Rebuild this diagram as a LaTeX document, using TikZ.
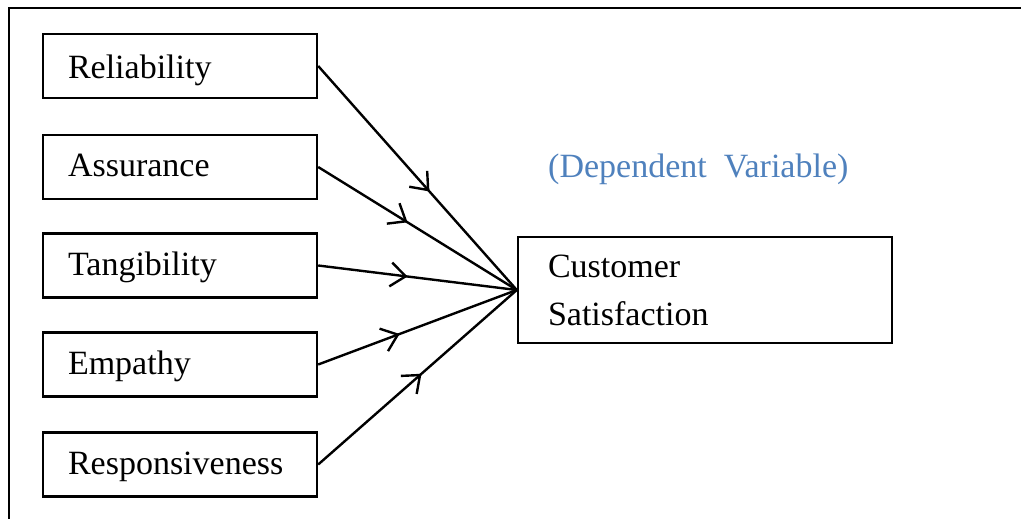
\documentclass[tikz,border=0pt]{standalone}
\usepackage{fontspec}
\setmainfont{Liberation Serif}
\usetikzlibrary{arrows.meta,decorations.markings}
\definecolor{depblue}{HTML}{4F81BD}
\tikzset{
  factor/.style={draw, line width=2.4pt, minimum width=274pt, minimum height=64pt,
    inner xsep=25pt, text width=224pt, align=left,
    text height=19pt, text depth=0pt,
    font=\fontsize{34}{48}\selectfont},
  outcome/.style={draw, line width=2.4pt, minimum width=374pt, minimum height=106pt,
    inner xsep=30pt, text width=314pt, align=left,
    font=\fontsize{34}{48}\selectfont},
  midbarb/.tip={Straight Barb[length=15pt,width=24pt,line width=2.4pt]},
  link/.style={line width=2.4pt, postaction={decorate},
    decoration={markings, mark=at position #1 with {\arrow{midbarb}}}}
}
\begin{document}
\begin{tikzpicture}[x=1pt,y=-1pt]
  \useasboundingbox (0,0) rectangle (1021,519);
  % open frame along the top and left
  \draw[line width=2.4pt] (9,519) -- (9,8) -- (1021,8);

  % independent variables
  \node[factor, text height=26pt] (rel) at (180,66) {Reliability};
  \node[factor] (ass) at (180,167)   {Assurance};
  \node[factor] (tan) at (180,265.5) {Tangibility};
  \node[factor] (emp) at (180,364.5) {Empathy};
  \node[factor] (res) at (180,464.5) {Responsiveness};

  % dependent variable
  \node[outcome] (cs) at (705,290) {Customer\\Satisfaction};
  \node[anchor=base west, inner sep=0pt, text=depblue,
        font=\fontsize{34}{48}\selectfont] (dep) at (548,177)
        {(Dependent\ \ Variable)};

  % paths into the outcome
  \draw[link=0.56] (rel.east) -- (cs.west);
  \draw[link=0.45] (ass.east) -- (cs.west);
  \draw[link=0.45] (tan.east) -- (cs.west);
  \draw[link=0.41] (emp.east) -- (cs.west);
  \draw[link=0.52] (res.east) -- (cs.west);
\end{tikzpicture}
\end{document}
